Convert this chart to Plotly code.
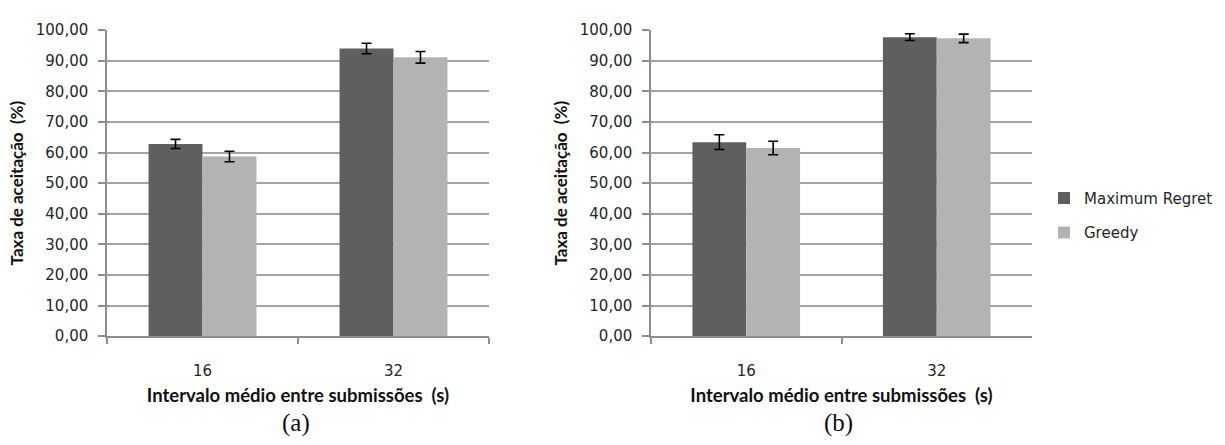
import plotly.graph_objects as go

# Categories: mean interval between submissions (s)
categories = ["16", "32"]
series_names = ["Maximum Regret", "Greedy"]
series_colors = ["#5f5f5f", "#b3b3b3"]

# Panel (a): acceptance rate (%) and error margins
a_max_regret = [62.8, 94.0]
a_max_regret_err = [1.5, 1.7]
a_greedy = [58.7, 91.1]
a_greedy_err = [1.7, 1.9]

# Panel (b): acceptance rate (%) and error margins
b_max_regret = [63.4, 97.7]
b_max_regret_err = [2.4, 1.1]
b_greedy = [61.5, 97.3]
b_greedy_err = [2.2, 1.4]

y_ticks = [0, 10, 20, 30, 40, 50, 60, 70, 80, 90, 100]

W, H = 1225, 445
TICK_FONT = dict(family="DejaVu Sans", size=15, color="#262626")
X_TITLE_FONT = dict(family="Lato", size=18.5, color="#111111", weight="bold")
Y_TITLE_FONT = dict(family="Lato", size=17, color="#111111", weight="bold")
AXIS_GRAY = "#8e8e8e"
GRID_GRAY = "#a4a4a4"

panels = [
    ("x", "y", [a_max_regret, a_greedy], [a_max_regret_err, a_greedy_err], True),
    ("x2", "y2", [b_max_regret, b_greedy], [b_max_regret_err, b_greedy_err], False),
]

fig = go.Figure()
for xa, ya, values, errors, show in panels:
    for i, name in enumerate(series_names):
        fig.add_trace(go.Bar(
            x=categories, y=values[i], name=name,
            marker=dict(color=series_colors[i], line=dict(width=0)),
            error_y=dict(type="data", array=errors[i], color="#000000",
                         thickness=1.6, width=5),
            xaxis=xa, yaxis=ya, showlegend=show, legendgroup=name,
        ))


def px_x(p):
    return p / W


def px_y(p):
    return 1 - p / H


y_domain = [px_y(341), px_y(22)]


def x_axis(domain, anchor):
    return dict(
        domain=domain, anchor=anchor, type="category",
        showline=True, linecolor=AXIS_GRAY, linewidth=1.5,
        ticks="outside", tickson="boundaries", ticklen=6,
        tickcolor=AXIS_GRAY, tickwidth=1.5,
        showgrid=False, tickfont=TICK_FONT, ticklabelstandoff=20,
        title=dict(text="Intervalo médio entre submissões  (s)",
                   font=X_TITLE_FONT, standoff=10),
        fixedrange=True,
    )


def y_axis(anchor):
    return dict(
        domain=y_domain, anchor=anchor, range=[0, 100],
        tickvals=y_ticks, tickformat=".2f",
        showline=True, linecolor=AXIS_GRAY, linewidth=1.5,
        ticks="outside", ticklen=7, tickcolor=AXIS_GRAY, tickwidth=1.5,
        showgrid=True, gridcolor=GRID_GRAY, gridwidth=1.6,
        zeroline=False, tickfont=TICK_FONT, ticklabelstandoff=7,
        title=dict(text="Taxa de aceitação  (%)", font=Y_TITLE_FONT, standoff=8),
        fixedrange=True,
    )


panel_label_font = dict(family="Liberation Serif", size=25, color="#111111")

fig.update_layout(
    width=W, height=H,
    margin=dict(l=0, r=0, t=0, b=0),
    paper_bgcolor="white", plot_bgcolor="white",
    separators=",.",
    barmode="group", bargap=0.435, bargroupgap=0,
    xaxis=x_axis([px_x(107), px_x(489)], "y"),
    yaxis=y_axis("x"),
    xaxis2=x_axis([px_x(651), px_x(1032)], "y2"),
    yaxis2=y_axis("x2"),
    legend=dict(
        x=px_x(1044), y=px_y(180), xanchor="left", yanchor="top",
        font=dict(family="DejaVu Sans", size=15, color="#262626"),
        tracegroupgap=12, bgcolor="rgba(0,0,0,0)",
    ),
    annotations=[
        dict(text="(a)", x=px_x(296), y=0, xref="paper", yref="paper",
             xanchor="center", yanchor="bottom", yshift=-3, showarrow=False,
             font=panel_label_font),
        dict(text="(b)", x=px_x(838), y=0, xref="paper", yref="paper",
             xanchor="center", yanchor="bottom", yshift=-3, showarrow=False,
             font=panel_label_font),
    ],
)

fig.write_html("out.html")
